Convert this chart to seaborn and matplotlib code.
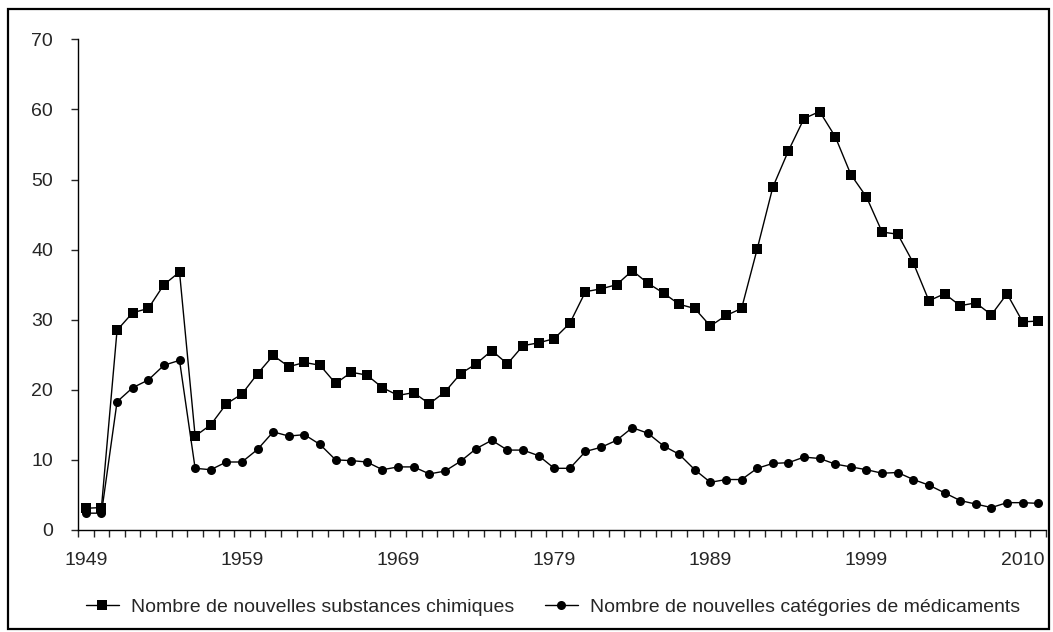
import numpy as np
import pandas as pd
import matplotlib
matplotlib.use('Agg')
import matplotlib.pyplot as plt
from matplotlib.patches import Rectangle
from matplotlib.lines import Line2D
import seaborn as sns

# values, one per year (62 points)
substances = [3.1, 3.2, 28.5, 31.0, 31.6, 35.0, 36.8, 13.4, 15.0, 18.0,
              19.4, 22.3, 24.9, 23.3, 23.9, 23.5, 20.9, 22.5, 22.1, 20.3,
              19.2, 19.6, 18.0, 19.7, 22.3, 23.7, 25.6, 23.7, 26.3, 26.7,
              27.3, 29.5, 34.0, 34.4, 35.0, 37.0, 35.2, 33.8, 32.2, 31.6,
              29.1, 30.6, 31.6, 40.1, 48.9, 54.1, 58.7, 59.7, 56.1, 50.7,
              47.5, 42.5, 42.2, 38.1, 32.7, 33.7, 32.0, 32.4, 30.7, 33.7,
              29.7, 29.8]
categories = [2.4, 2.4, 18.3, 20.3, 21.4, 23.5, 24.2, 8.8, 8.6, 9.7,
              9.7, 11.5, 14.0, 13.4, 13.6, 12.2, 10.0, 9.9, 9.7, 8.6,
              9.0, 9.0, 8.0, 8.4, 9.8, 11.6, 12.8, 11.4, 11.4, 10.6,
              8.8, 8.8, 11.2, 11.8, 12.8, 14.6, 13.8, 12.0, 10.8, 8.6,
              6.8, 7.2, 7.2, 8.8, 9.5, 9.6, 10.4, 10.2, 9.4, 9.0,
              8.6, 8.1, 8.2, 7.2, 6.4, 5.3, 4.2, 3.7, 3.2, 3.9,
              3.9, 3.8]
tick_labels = ['1949', '1959', '1969', '1979', '1989', '1999', '2010']
label_sub = 'Nombre de nouvelles substances chimiques'
label_cat = 'Nombre de nouvelles catégories de médicaments'

df = pd.DataFrame({'pos': np.arange(len(substances)),
                   'substances': substances,
                   'categories': categories})

sns.set_style('white')
plt.rcParams['font.family'] = ['Liberation Sans', 'DejaVu Sans']
plt.rcParams['font.size'] = 14

fig = plt.figure(figsize=(10.53, 6.32), dpi=100)
ax = fig.add_axes([0.0741, 0.1614, 0.9193, 0.7764])

sns.lineplot(data=df, x='pos', y='substances', ax=ax, color='black',
             linewidth=1.0, marker='s', markersize=6.5, markeredgewidth=0)
sns.lineplot(data=df, x='pos', y='categories', ax=ax, color='black',
             linewidth=1.0, marker='o', markersize=6.5, markeredgewidth=0)

ax.set_xlim(-0.5, len(substances) - 0.5)
ax.set_ylim(0, 70)
ax.set_xlabel('')
ax.set_ylabel('')

ax.set_yticks(range(0, 71, 10))
ax.tick_params(axis='y', direction='out', length=5, width=1, pad=13,
               left=True, labelsize=14)
ax.set_xticks(range(0, 61, 10))
ax.set_xticklabels(tick_labels)
ax.set_xticks(np.arange(-0.5, len(substances)), minor=True)
ax.tick_params(axis='x', which='major', length=0, pad=16, labelsize=14)
ax.tick_params(axis='x', which='minor', direction='out', length=5,
               width=1, bottom=True)

sns.despine(ax=ax)
for s in ['left', 'bottom']:
    ax.spines[s].set_linewidth(1.0)
    ax.spines[s].set_color('black')

handles = [Line2D([], [], color='black', lw=1.0, marker='s', markersize=6.5,
                  markeredgewidth=0),
           Line2D([], [], color='black', lw=1.0, marker='o', markersize=6.5,
                  markeredgewidth=0)]
fig.legend(handles, [label_sub, label_cat], loc='center',
           bbox_to_anchor=(0.525, 0.04), ncol=2, frameon=False,
           fontsize=14, handlelength=1.7, handletextpad=0.6,
           columnspacing=1.6)

# black frame round the whole chart
fig.add_artist(Rectangle((0.008, 0.004), 0.988, 0.982, transform=fig.transFigure,
                         fill=False, edgecolor='black', linewidth=1.6))

fig.savefig('out.png', dpi=100)
